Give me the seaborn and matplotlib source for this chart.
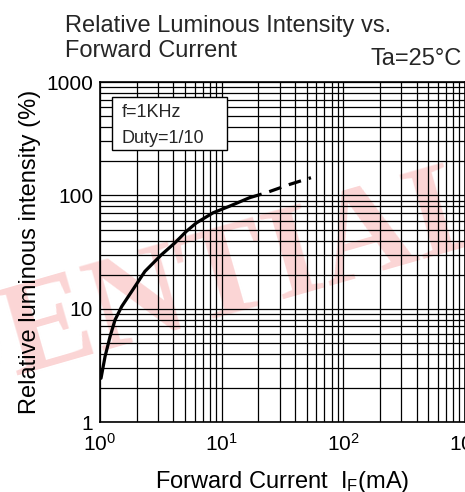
import numpy as np
import pandas as pd
import seaborn as sns
import matplotlib.pyplot as plt
from matplotlib.ticker import LogLocator, NullFormatter, FixedLocator, FixedFormatter
from matplotlib.patches import Rectangle

# Curve (IF in mA, relative intensity in %)
current_solid = [1.02, 1.10, 1.21, 1.33, 1.51, 1.82, 2.34, 3.20, 4.12, 5.13,
                 6.20, 8.49, 11.6, 16.9]
intensity_solid = [2.44, 3.78, 5.69, 7.99, 10.5, 14.2, 21.4, 30.0, 38.1, 48.3,
                   57.3, 70.3, 80.4, 95.5]
current_dashed = [16.9, 23.2, 36.0, 54.2]
intensity_dashed = [95.5, 105.7, 125, 143.5]

x_ticks = [1, 10, 100, 1000]
x_labels = [r'$10^{0}$', r'$10^{1}$', r'$10^{2}$', r'$10^{3}$']
y_ticks = [1, 10, 100, 1000]
y_labels = ['1', '10', '100', '1000']

solid = pd.DataFrame({'IF': current_solid, 'Iv': intensity_solid})
dashed = pd.DataFrame({'IF': current_dashed, 'Iv': intensity_dashed})

sns.set_theme(style='white')
plt.rcParams['font.family'] = ['Liberation Sans', 'DejaVu Sans']
plt.rcParams['mathtext.fontset'] = 'custom'
plt.rcParams['mathtext.rm'] = 'Liberation Sans'
plt.rcParams['mathtext.it'] = 'Liberation Sans'

fig = plt.figure(figsize=(4.65, 4.92), dpi=100)
ax = fig.add_axes([0.215, 0.142, 0.785, 0.691])

# faint watermark behind the grid
ax.text(0.0, 0.30, 'CONFIDENTIAL', transform=fig.transFigure, fontsize=96,
        family='Liberation Serif', weight='bold', color='#fbd5d5',
        rotation=16, ha='center', va='center', zorder=0.5, clip_on=False)

sns.lineplot(data=solid, x='IF', y='Iv', ax=ax, color='black', lw=2.3, sort=False, zorder=4)
sns.lineplot(data=dashed, x='IF', y='Iv', ax=ax, color='black', lw=2.3, sort=False,
             linestyle=(0, (4, 2.5)), zorder=4)

ax.set_xscale('log')
ax.set_yscale('log')
ax.set_xlim(1, 1000)
ax.set_ylim(1, 1000)
ax.xaxis.set_major_locator(FixedLocator(x_ticks))
ax.xaxis.set_major_formatter(FixedFormatter(x_labels))
ax.yaxis.set_major_locator(FixedLocator(y_ticks))
ax.yaxis.set_major_formatter(FixedFormatter(y_labels))
for axis in (ax.xaxis, ax.yaxis):
    axis.set_minor_locator(LogLocator(base=10, subs=np.arange(2, 10)))
    axis.set_minor_formatter(NullFormatter())
ax.grid(which='both', color='black', lw=0.9)
ax.tick_params(which='both', length=0, labelsize=15, colors='black')
ax.tick_params(axis='x', pad=8)
ax.tick_params(axis='y', pad=5)
for s in ax.spines.values():
    s.set_color('black')
    s.set_linewidth(1.2)

ax.set_xlabel(r'Forward Current  I$_\mathregular{F}$(mA)', fontsize=17, color='black', labelpad=10)
ax.set_ylabel('Relative luminous intensity (%)', fontsize=17, color='black', labelpad=4)

# condition box
ax.add_patch(Rectangle((0.033, 0.80), 0.315, 0.156, transform=ax.transAxes,
                       facecolor='white', edgecolor='black', lw=1, zorder=5))
ax.text(0.06, 0.912, 'f=1KHz', transform=ax.transAxes, fontsize=13, va='center', zorder=6)
ax.text(0.06, 0.835, 'Duty=1/10', transform=ax.transAxes, fontsize=13, va='center', zorder=6)

fig.text(0.14, 0.935, 'Relative Luminous Intensity vs.', fontsize=17, va='baseline')
fig.text(0.14, 0.884, 'Forward Current', fontsize=17, va='baseline')
fig.text(0.796, 0.868, 'Ta=25°C', fontsize=17, va='baseline')

fig.savefig('out.png', dpi=100)
